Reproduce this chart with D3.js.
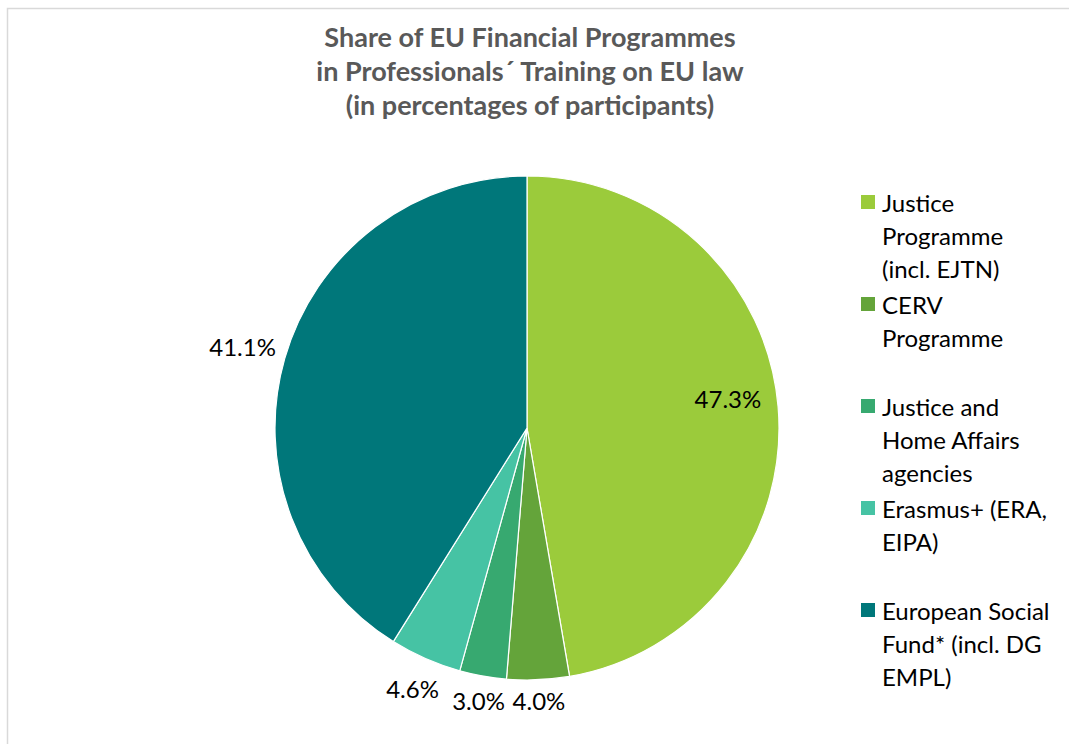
<!DOCTYPE html>
<html>
<head>
<meta charset="utf-8">
<script src="https://cdn.jsdelivr.net/npm/d3@7"></script>
<style>
  body { margin: 0; background: #fff; }
  text { font-family: Lato, "Liberation Sans", sans-serif; }
</style>
</head>
<body>
<div id="chart"></div>
<script>
// data
const programmes = [
  "Justice Programme (incl. EJTN)",
  "CERV Programme",
  "Justice and Home Affairs agencies",
  "Erasmus+ (ERA, EIPA)",
  "European Social Fund* (incl. DG EMPL)"
];
const shares = [47.3, 4.0, 3.0, 4.6, 41.1];
const legendLines = [
  ["Justice", "Programme", "(incl. EJTN)"],
  ["CERV", "Programme"],
  ["Justice and", "Home Affairs", "agencies"],
  ["Erasmus+ (ERA,", "EIPA)"],
  ["European Social", "Fund* (incl. DG", "EMPL)"]
];
const titleLines = [
  "Share of EU Financial Programmes",
  "in Professionals\u00B4 Training on EU law",
  "(in percentages of participants)"
];

const colors = ["#9bcb3b", "#64a43a", "#37a970", "#46c3a4", "#00777a"];

const svgWidth = 1069;
const svgHeight = 744;

const svg = d3.select("#chart")
  .append("svg")
  .attr("width", svgWidth)
  .attr("height", svgHeight);

// chart area border (only left/top visible in the picture)
svg.append("rect")
  .attr("x", 7.5)
  .attr("y", 8.5)
  .attr("width", svgWidth + 10)
  .attr("height", svgHeight + 10)
  .attr("fill", "none")
  .attr("stroke", "#d9d9d9")
  .attr("stroke-width", 1.5);

// title
svg.append("g")
  .selectAll("text")
  .data(titleLines)
  .join("text")
  .attr("x", 530)
  .attr("y", (d, i) => 47 + i * 34)
  .attr("text-anchor", "middle")
  .attr("font-size", 27)
  .attr("font-weight", "bold")
  .attr("fill", "#595959")
  .text(d => d);

// pie
const cx = 527, cy = 428, radius = 252;
const color = d3.scaleOrdinal().domain(programmes).range(colors);

const pie = d3.pie()
  .value(d => d.share)
  .sort(null);

const arcs = pie(programmes.map((p, i) => ({ name: p, share: shares[i] })));
const arc = d3.arc().innerRadius(0).outerRadius(radius);

const pieGroup = svg.append("g")
  .attr("transform", `translate(${cx}, ${cy})`);

pieGroup.selectAll("path")
  .data(arcs)
  .join("path")
  .attr("d", arc)
  .attr("fill", d => color(d.data.name))
  .attr("stroke", "#fff")
  .attr("stroke-width", 1.2);

// data labels: biggest slice inside, the rest outside the edge
const fmt = d3.format(".1f");
pieGroup.selectAll("text.label")
  .data(arcs)
  .join("text")
  .attr("class", "label")
  .attr("font-size", 24)
  .attr("fill", "#000")
  .attr("text-anchor", "middle")
  .attr("dominant-baseline", "central")
  .attr("transform", d => {
    const a = (d.startAngle + d.endAngle) / 2;
    const ux = Math.sin(a), uy = -Math.cos(a);
    let r;
    if (d.index === 0) {
      r = radius * 0.8;
      return `translate(${ux * r}, ${uy * r - 12})`;
    }
    r = radius + 35 * Math.abs(ux) + 12 * Math.abs(uy) + 7;
    return `translate(${ux * r}, ${uy * r})`;
  })
  .text(d => fmt(d.data.share) + "%");

// legend
const legend = svg.append("g")
  .attr("transform", "translate(861, 202)");

const item = legend.selectAll("g")
  .data(programmes)
  .join("g")
  .attr("transform", (d, i) => `translate(0, ${i * 102})`);

item.append("rect")
  .attr("x", 0)
  .attr("y", -7)
  .attr("width", 14)
  .attr("height", 14)
  .attr("fill", d => color(d));

item.selectAll("text")
  .data((d, i) => legendLines[i])
  .join("text")
  .attr("x", 21)
  .attr("y", (d, j) => j * 33)
  .attr("dominant-baseline", "central")
  .attr("font-size", 24)
  .attr("fill", "#000")
  .text(d => d);
</script>
</body>
</html>
